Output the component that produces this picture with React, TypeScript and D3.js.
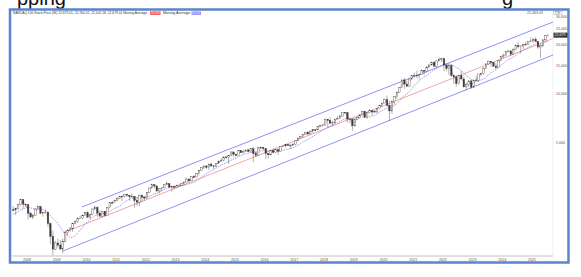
import React from "react";
import * as d3 from "d3";

// ---------------- DATA ----------------
// Monthly NASDAQ-100 bars, starting July 2007
const startYear = 2007;
const startMonthIndex = 6; // July
// closes of the 10 months before the first bar (for moving averages)
const priorCloses = [1654, 1703, 1749, 1757, 1792, 1745, 1772, 1870, 1929, 1934];

const closes = [
  1932, 1971, 2091, 2238, 2089, 2085,
  1841, 1745, 1781, 1950, 2028, 1837, 1860, 1872, 1594, 1329, 1109, 1212,
  1176, 1111, 1237, 1400, 1442, 1477, 1599, 1632, 1705, 1718, 1785, 1860,
  1742, 1809, 1957, 2002, 1845, 1765, 1897, 1780, 2002, 2140, 2135, 2218,
  2264, 2339, 2338, 2409, 2378, 2325, 2339, 2204, 2150, 2368, 2314, 2278,
  2459, 2632, 2755, 2709, 2522, 2616, 2633, 2776, 2800, 2662, 2677, 2660,
  2731, 2738, 2819, 2862, 2987, 2910, 3085, 3074, 3219, 3372, 3500, 3592,
  3520, 3690, 3596, 3563, 3737, 3849, 3895, 4083, 4050, 4159, 4381, 4236,
  4163, 4465, 4334, 4415, 4509, 4397, 4577, 4275, 4182, 4648, 4665, 4593,
  4280, 4201, 4484, 4341, 4523, 4418, 4730, 4771, 4875, 4801, 4810, 4864,
  5119, 5330, 5436, 5584, 5788, 5647, 5880, 5988, 5979, 6248, 6368, 6397,
  6950, 6856, 6581, 6605, 6967, 7040, 7272, 7658, 7627, 6968, 6950, 6330,
  6907, 7097, 7378, 7781, 7127, 7671, 7848, 7692, 7750, 8084, 8403, 8733,
  9151, 8462, 7813, 8890, 9555, 10157, 10905, 12110, 11418, 11052, 12268, 12888,
  12925, 12909, 13091, 13860, 13687, 14554, 14960, 15583, 14690, 15851, 16135, 16320,
  14930, 14237, 14838, 12855, 12643, 11504, 12947, 12272, 10971, 11406, 11951, 10940,
  12102, 12042, 13182, 13246, 14254, 15180, 15758, 15501, 14715, 14410, 15947, 16826,
  17137, 18044, 18255, 17441, 18537, 19683, 19362, 19575, 20061, 19890, 20930, 21012,
  21478, 20884, 19279, 19571, 21340, 22679, 22800,
];

const highs = [
  2036, 1990, 2097, 2239, 2215, 2124,
  2088, 1870, 1826, 1974, 2063, 2030, 1875, 1942, 1880, 1612, 1440, 1243,
  1286, 1265, 1290, 1430, 1475, 1523, 1615, 1662, 1744, 1787, 1812, 1880,
  1890, 1820, 1965, 2050, 2030, 1920, 1900, 1900, 2015, 2150, 2190, 2230,
  2300, 2360, 2345, 2422, 2424, 2380, 2440, 2350, 2310, 2405, 2400, 2340,
  2470, 2645, 2795, 2780, 2720, 2625, 2650, 2790, 2880, 2810, 2690, 2720,
  2760, 2790, 2830, 2880, 3050, 3020, 3105, 3160, 3250, 3400, 3510, 3600,
  3630, 3710, 3750, 3620, 3740, 3860, 3990, 4090, 4120, 4170, 4400, 4330,
  4280, 4480, 4485, 4530, 4540, 4560, 4640, 4700, 4420, 4700, 4740, 4710,
  4590, 4290, 4500, 4600, 4530, 4600, 4740, 4820, 4900, 4900, 4880, 4960,
  5130, 5350, 5470, 5600, 5810, 5890, 5960, 6000, 6000, 6270, 6440, 6500,
  7020, 6960, 7180, 6800, 7000, 7280, 7420, 7680, 7700, 7700, 7070, 7040,
  6950, 7200, 7480, 7850, 7850, 7720, 8030, 7950, 7930, 8120, 8440, 8750,
  9270, 9720, 9040, 9080, 9620, 10300, 10960, 12150, 12440, 12000, 12300, 12900,
  13440, 13800, 13250, 14060, 13890, 14580, 15120, 15600, 15700, 15900, 16770, 16570,
  16600, 15250, 15270, 15100, 13130, 12950, 13000, 13720, 12700, 11700, 12040, 12170,
  12140, 12880, 13200, 13330, 14500, 15300, 15930, 15840, 15620, 15300, 16100, 16970,
  17660, 18140, 18460, 18420, 18900, 20000, 20690, 19600, 20250, 20690, 21000, 22130,
  22000, 22220, 21000, 20000, 21560, 22700, 23100,
];

const lows = [
  1900, 1800, 1935, 2056, 1965, 2010,
  1690, 1740, 1690, 1775, 1937, 1830, 1755, 1840, 1520, 1192, 1018, 1096,
  1133, 1105, 1043, 1220, 1357, 1420, 1415, 1575, 1600, 1700, 1700, 1782,
  1740, 1700, 1810, 1950, 1752, 1760, 1730, 1760, 1785, 1990, 2105, 2135,
  2200, 2262, 2190, 2306, 2325, 2200, 2300, 1990, 2040, 2036, 2150, 2200,
  2280, 2450, 2630, 2620, 2490, 2445, 2520, 2630, 2750, 2650, 2500, 2590,
  2660, 2690, 2730, 2740, 2860, 2840, 2915, 3030, 3060, 3150, 3360, 3440,
  3450, 3400, 3540, 3450, 3550, 3715, 3840, 3850, 3980, 3700, 4150, 4090,
  4090, 4150, 4300, 4290, 4420, 4390, 4330, 3790, 4080, 4170, 4560, 4500,
  3950, 3990, 4170, 4330, 4300, 4200, 4400, 4720, 4660, 4780, 4580, 4780,
  4860, 5120, 5300, 5350, 5580, 5550, 5630, 5750, 5860, 5980, 6200, 6250,
  6400, 6165, 6450, 6320, 6540, 6960, 6980, 7200, 7460, 6640, 6550, 5900,
  6230, 6880, 7020, 7380, 7120, 7000, 7650, 7340, 7570, 7560, 8080, 8260,
  8720, 8250, 6770, 7500, 8580, 9300, 10080, 10900, 10680, 11000, 11050, 12180,
  12600, 12500, 12200, 13100, 13000, 13450, 14300, 14850, 14650, 14450, 15800, 15560,
  13720, 13680, 13020, 12700, 11450, 11030, 11300, 12250, 10900, 10440, 10980, 10680,
  10800, 11900, 11700, 12800, 12980, 14200, 15000, 14560, 14590, 14050, 14400, 15800,
  16440, 17100, 17860, 16970, 17400, 18480, 18900, 17600, 18780, 19600, 19760, 20600,
  20500, 20740, 18800, 16540, 19500, 21000, 22400,
];

const fastPeriod = 2;
const slowPeriod = 10;

const yearTicks = [2008, 2009, 2010, 2011, 2012, 2013, 2014, 2015, 2016, 2017, 2018, 2019, 2020, 2021, 2022, 2023, 2024, 2025];
const priceTicks = [30000, 25000, 20000, 15000, 10000, 5000];

const channelUpper = [
  { date: "2009-11-08", value: 2013 },
  { date: "2025-09-16", value: 27450 },
];
const channelLower = [
  { date: "2009-03-20", value: 1081 },
  { date: "2025-09-16", value: 17225 },
];
const channelMid = [
  { date: "2009-03-20", value: 1399 },
  { date: "2025-09-16", value: 21750 },
];

const lastPriceLabel = "22,679";
const headerMain = "NASDAQ 100 Stock Price (W) 22,679.01, 22,760.52, 22,402.18, 22,679.01 Moving Average";
const fastLabel = "20,595";
const slowLabel = "20,187";
const headerRight = "22,463.09";

// ---------------- CHART ----------------
const W = 581;
const H = 277;
const plot = { left: 12, right: 553, top: 11, bottom: 256 };
const FONT = "'Liberation Sans', Arial, sans-serif";

export default function App() {
  const x = d3
    .scaleTime()
    .domain([new Date(2007, 6, 1), new Date(2025, 8, 16)])
    .range([plot.left, plot.right]);
  const y = d3.scaleLog().domain([1007, 32070]).range([plot.bottom, plot.top]);

  const bars = closes.map((c, i) => {
    const date = new Date(startYear, startMonthIndex + i, 15);
    const open = i === 0 ? priorCloses[priorCloses.length - 1] : closes[i - 1];
    return { date, open, close: c, high: highs[i], low: lows[i] };
  });

  const all = [...priorCloses, ...closes];
  const P = priorCloses.length;
  const ma = (n: number) =>
    bars.map((b, i) => ({ date: b.date, value: d3.mean(all.slice(i + P - n + 1, i + P + 1)) as number }));

  const line = d3
    .line<{ date: Date; value: number }>()
    .x((d) => x(d.date))
    .y((d) => y(d.value));
  const toD = (arr: { date: string; value: number }[]) =>
    arr.map((p) => ({ date: new Date(p.date + "T00:00:00"), value: p.value }));

  const bw = 1.5;
  const lastY = y(closes[closes.length - 1]);
  const ink = "#3a3a3a";

  return (
    <div style={{ position: "absolute", left: 0, top: 0, width: W, height: H, background: "#fff" }}>
      <svg width={W} height={H} viewBox={`0 0 ${W} ${H}`} style={{ display: "block", fontFamily: FONT }}>
        <rect x={0} y={0} width={W} height={H} fill="#fff" />
        {/* cropped slide title (only its lower part is visible in the picture) */}
        <text x={17} y={5} fontSize={20} fill="#111" fontFamily={FONT}>pping</text>
        <text x={502} y={5} fontSize={20} fill="#111" fontFamily={FONT}>g</text>

        {/* frame */}
        <rect x={10} y={9.5} width={558.5} height={253} fill="#fff" stroke="#5b84c9" strokeWidth={2.5} />

        {/* header */}
        <text x={13} y={14} fontSize={3.1} fill="#333" textLength={134} lengthAdjust="spacingAndGlyphs">
          {headerMain}
        </text>
        <rect x={150} y={11.3} width={10.5} height={3.6} fill="#f05050" />
        <text x={150.6} y={14} fontSize={3.0} fill="#fff" textLength={9.3} lengthAdjust="spacingAndGlyphs">{fastLabel}</text>
        <text x={163} y={14} fontSize={3.1} fill="#333" textLength={27} lengthAdjust="spacingAndGlyphs">Moving Average</text>
        <rect x={191.5} y={11.3} width={9.5} height={3.6} fill="#8c8cf0" />
        <text x={192} y={14} fontSize={3.0} fill="#fff" textLength={8.5} lengthAdjust="spacingAndGlyphs">{slowLabel}</text>
        <text x={527} y={14} fontSize={3.4} fill="#555" textLength={16} lengthAdjust="spacingAndGlyphs">{headerRight}</text>
        <rect x={553.5} y={11.2} width={8.5} height={3.6} fill="#fff" stroke="#999" strokeWidth={0.4} />
        <text x={555} y={14} fontSize={2.8} fill="#555">1 W</text>

        {/* axes */}
        <line x1={plot.left} x2={plot.right} y1={plot.bottom} y2={plot.bottom} stroke="#999" strokeWidth={0.6} />
        <line x1={plot.right} x2={plot.right} y1={plot.top} y2={plot.bottom} stroke="#ddd" strokeWidth={0.5} />
        {yearTicks.map((yr) => (
          <text key={yr} x={x(new Date(yr, 0, 1))} y={260.5} fontSize={3.6} fill="#555" textAnchor="middle">
            {String(yr)}
          </text>
        ))}
        {priceTicks.map((v) => (
          <text key={v} x={556} y={y(v) + 1.8} fontSize={3.6} fill="#555">
            {d3.format(",")(v)}
          </text>
        ))}

        {/* channel */}
        <path d={line(toD(channelUpper)) || ""} fill="none" stroke="#8585ee" strokeWidth={0.9} />
        <path d={line(toD(channelLower)) || ""} fill="none" stroke="#8585ee" strokeWidth={0.9} />
        <path d={line(toD(channelMid)) || ""} fill="none" stroke="#f08e8e" strokeWidth={0.8} />

        {/* moving averages */}
        <path d={line(ma(slowPeriod)) || ""} fill="none" stroke="#7070e8" strokeWidth={0.7} strokeDasharray="1.4 1" />
        <path d={line(ma(fastPeriod)) || ""} fill="none" stroke="#e84545" strokeWidth={0.7} strokeDasharray="1.4 1" />

        {/* candles */}
        {bars.map((b, i) => {
          const cx = x(b.date);
          const up = b.close >= b.open;
          const top = y(Math.max(b.open, b.close));
          const bot = y(Math.min(b.open, b.close));
          return (
            <g key={i}>
              <line x1={cx} x2={cx} y1={y(b.high)} y2={y(b.low)} stroke={ink} strokeWidth={0.4} />
              <rect
                x={cx - bw / 2}
                y={top}
                width={bw}
                height={Math.max(0.6, bot - top)}
                fill={up ? "#fff" : ink}
                stroke={ink}
                strokeWidth={0.35}
              />
            </g>
          );
        })}

        {/* last price tag */}
        <rect x={553.5} y={lastY - 2.5} width={14} height={5} fill="#333" />
        <text x={554.5} y={lastY + 1.3} fontSize={3.6} fill="#fff">{lastPriceLabel}</text>
      </svg>
    </div>
  );
}
